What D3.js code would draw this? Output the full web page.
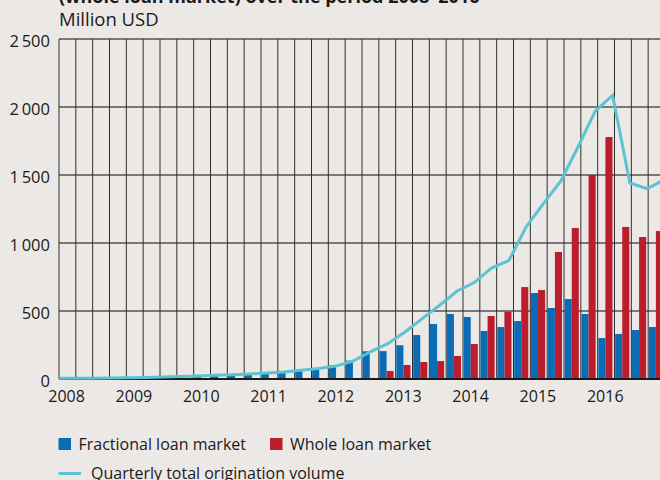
<!DOCTYPE html>
<html>
<head>
<meta charset="utf-8">
<script src="https://cdn.jsdelivr.net/npm/d3@7"></script>
<style>
  html, body { margin: 0; padding: 0; background: #ece8e5; }
  svg { display: block; font-family: "Open Sans", "Noto Sans", sans-serif; }
</style>
</head>
<body>
<div id="chart"></div>
<script>
// quarters 2008Q1 .. 2016Q4
const quarters = d3.range(2008, 2017).flatMap(y => ["Q1", "Q2", "Q3", "Q4"].map(q => y + q));

const fractional = [1, 1, 1, 1, 2, 3, 5, 9, 14, 21, 25, 33, 40, 49, 63, 77, 102, 135, 204, 205,
  248, 323, 404, 478, 456, 353, 382, 426, 632, 522, 588, 478, 301, 331, 360, 382];
const whole = [0, 0, 0, 0, 0, 0, 0, 0, 0, 0, 0, 0, 0, 0, 0, 0, 0, 0, 0, 59,
  103, 125, 132, 169, 257, 463, 495, 676, 654, 934, 1110, 1500, 1779, 1118, 1044, 1088];
const total = [5, 5, 6, 7, 9, 11, 14, 18, 22, 27, 32, 37, 44, 52, 64, 78, 95, 132, 200, 260,
  346, 444, 542, 645, 709, 816, 870, 1118, 1290, 1454, 1706, 1971, 2086, 1441, 1400, 1465];

const yearLabels = ["2008", "2009", "2010", "2011", "2012", "2013", "2014", "2015", "2016"];
const yTicks = [0, 500, 1000, 1500, 2000, 2500];

const series = ["Fractional loan market", "Whole loan market"];
const lineLabel = "Quarterly total origination volume";

const width = 660;
const height = 480;
const colors = { frac: "#0a6cb4", whole: "#bb1d2c", line: "#5cc3d3" };

const svg = d3.select("#chart").append("svg")
  .attr("width", width)
  .attr("height", height);

const x = d3.scaleBand()
  .domain(quarters)
  .range([59, 665])
  .padding(0);

const xLine = d3.scalePoint()
  .domain(quarters)
  .range([59, 664.5]);

const y = d3.scaleLinear()
  .domain([0, 2500])
  .range([379, 39]);

const sub = d3.scaleBand()
  .domain(["frac", "whole"])
  .range([x.bandwidth() * 0.04, x.bandwidth() * 0.88])
  .padding(0);

// title (cut off at top in the original)
svg.append("text")
  .attr("x", 59)
  .attr("y", 3)
  .attr("font-size", 18)
  .attr("font-weight", "bold")
  .attr("fill", "#1a1a1a")
  .text("(whole loan market) over the period 2008–2016");

svg.append("text")
  .attr("x", 59)
  .attr("y", 26)
  .attr("font-size", 18.5)
  .attr("fill", "#1a1a1a")
  .text("Million USD");

// grid
const grid = svg.append("g").attr("class", "grid");
grid.selectAll(".hgrid")
  .data(yTicks.filter(d => d > 0))
  .enter().append("line")
  .attr("class", "hgrid")
  .attr("x1", 59).attr("x2", width)
  .attr("y1", d => y(d)).attr("y2", d => y(d))
  .attr("stroke", "#555")
  .attr("stroke-width", 1.3);

grid.selectAll(".vgrid")
  .data(quarters)
  .enter().append("line")
  .attr("class", "vgrid")
  .attr("x1", d => x(d)).attr("x2", d => x(d))
  .attr("y1", y(2500)).attr("y2", y(0))
  .attr("stroke", "#2e2e2e")
  .attr("stroke-width", 1);

// bars
const bars = svg.append("g").attr("class", "bars");
bars.selectAll(".frac")
  .data(quarters)
  .enter().append("rect")
  .attr("class", "frac")
  .attr("x", d => x(d) + sub("frac"))
  .attr("width", sub.bandwidth())
  .attr("y", (d, i) => y(fractional[i]))
  .attr("height", (d, i) => y(0) - y(fractional[i]))
  .attr("fill", colors.frac);

bars.selectAll(".whole")
  .data(quarters)
  .enter().append("rect")
  .attr("class", "whole")
  .attr("x", d => x(d) + sub("whole"))
  .attr("width", sub.bandwidth())
  .attr("y", (d, i) => y(whole[i]))
  .attr("height", (d, i) => y(0) - y(whole[i]))
  .attr("fill", colors.whole);

// baseline
svg.append("line")
  .attr("x1", 59).attr("x2", width)
  .attr("y1", y(0)).attr("y2", y(0))
  .attr("stroke", "#1a1a1a")
  .attr("stroke-width", 2.2);

// total line
const line = d3.line()
  .x((d, i) => xLine(quarters[i]))
  .y(d => y(d));

svg.append("path")
  .datum(total)
  .attr("d", line)
  .attr("fill", "none")
  .attr("stroke", colors.line)
  .attr("stroke-width", 3)
  .attr("stroke-linejoin", "miter");

// y axis labels
svg.append("g").selectAll("text")
  .data(yTicks)
  .enter().append("text")
  .attr("x", 50)
  .attr("y", d => y(d) + 7.5)
  .attr("text-anchor", "end")
  .attr("font-size", 16.5)
  .attr("fill", "#1a1a1a")
  .text(d => d >= 1000 ? d3.format(",")(d).replace(",", "\u2009") : d);

// year labels
svg.append("g").selectAll("text")
  .data(yearLabels)
  .enter().append("text")
  .attr("x", d => x(d + "Q1") + x.bandwidth() * 0.45)
  .attr("y", 402)
  .attr("text-anchor", "middle")
  .attr("font-size", 16)
  .attr("fill", "#1a1a1a")
  .text(d => d);

// legend
const legend = svg.append("g").attr("class", "legend");
const legendItems = [
  { label: series[0], color: colors.frac, x: 58.5 },
  { label: series[1], color: colors.whole, x: 270 }
];
legendItems.forEach(item => {
  legend.append("rect")
    .attr("x", item.x).attr("y", 438)
    .attr("width", 12.5).attr("height", 12)
    .attr("fill", item.color);
  legend.append("text")
    .attr("x", item.x + 20).attr("y", 450)
    .attr("font-size", 16)
    .attr("fill", "#1a1a1a")
    .text(item.label);
});
legend.append("line")
  .attr("x1", 58.5).attr("x2", 81)
  .attr("y1", 473.5).attr("y2", 473.5)
  .attr("stroke", colors.line)
  .attr("stroke-width", 3);
legend.append("text")
  .attr("x", 91).attr("y", 479)
  .attr("font-size", 16)
  .attr("fill", "#1a1a1a")
  .text(lineLabel);
</script>
</body>
</html>
